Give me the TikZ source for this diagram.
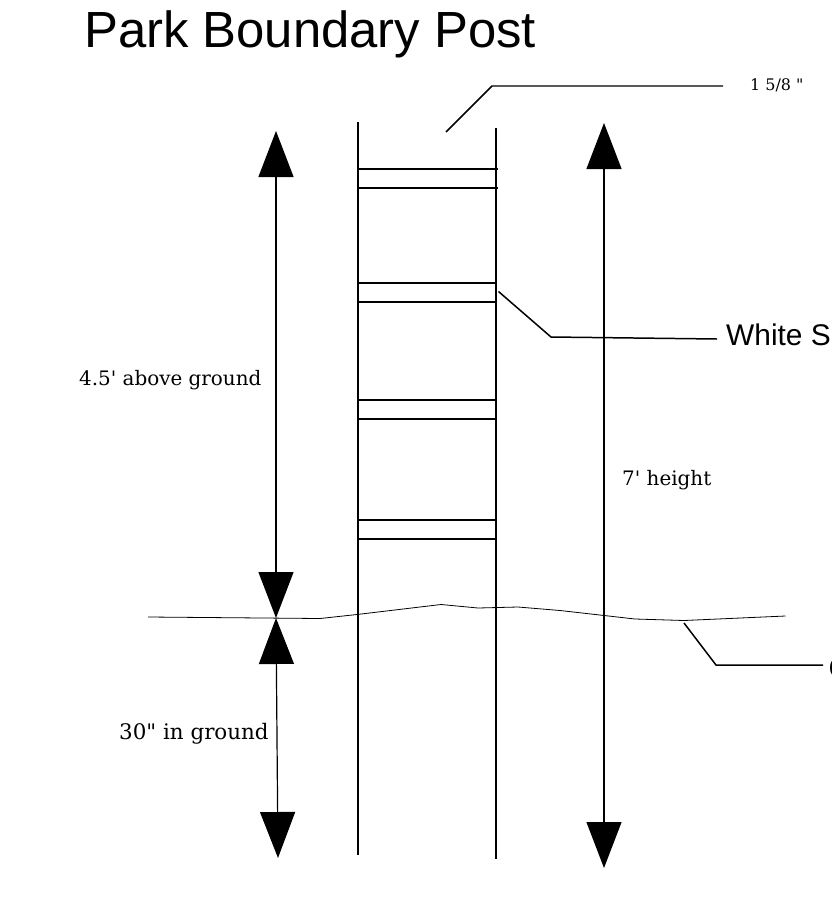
\documentclass[tikz,border=0pt]{standalone}
\usepackage{fontspec}
\setmainfont{DejaVu Serif}
\newfontfamily\headfont{Liberation Sans}
\usetikzlibrary{arrows.meta}

\tikzset{
  postline/.style={black, line width=1.5pt},
  thinline/.style={black, line width=0.8pt},
  dimline/.style={black, line width=1.2pt, {Triangle[length=46bp,width=35bp]}-{Triangle[length=46bp,width=35bp]}},
  headlabel/.style={font=\headfont\fontsize{30}{34}\selectfont, anchor=base west, inner sep=0pt},
  dimlabel/.style={font=\fontsize{20}{24}\selectfont, anchor=base west, inner sep=0pt}
}

\begin{document}
\begin{tikzpicture}[x=1bp, y=-1bp]
  \useasboundingbox (0,0) rectangle (832,901);
  \node[font=\headfont\fontsize{51}{60}\selectfont, anchor=base west, inner sep=0pt] (title) at (84,47) {Park Boundary Post};
  % post and bands
  \draw[postline] (358,122) -- (358,855);
  \draw[postline] (496,128) -- (496,859);
  \draw[postline] (358,169) -- (498,169);
  \draw[postline] (358,188) -- (498,188);
  \draw[postline] (358,283) -- (496,283);
  \draw[postline] (358,302) -- (496,302);
  \draw[postline] (358,400) -- (496,400);
  \draw[postline] (358,419) -- (496,419);
  \draw[postline] (358,520) -- (496,520);
  \draw[postline] (358,539) -- (496,539);
  % ground
  \draw[thinline] (148,617) -- (320,618.5) -- (357,614.5) -- (441,604.5) -- (478,608) -- (518,607) -- (560,610.5) -- (635,619) -- (684,620.5) -- (785.5,616);
  % dimensions
  \coordinate (aboveTop) at (276,131);
  \coordinate (aboveEnd) at (276,618);
  \coordinate (belowTop) at (276,618);
  \coordinate (belowEnd) at (278,858);
  \coordinate (totalTop) at (604,123);
  \coordinate (totalEnd) at (604,868);
  \draw[dimline] (aboveTop) -- (aboveEnd);
  \draw[dimline] (belowTop) -- (belowEnd);
  \draw[dimline] (totalTop) -- (totalEnd);
  \node[dimlabel] (aboveLabel) at (79,385) {4.5\textquotesingle{} above ground};
  \node[dimlabel, font=\fontsize{21.5}{25}\selectfont] (belowLabel) at (119,739) {30\textquotedbl{} in ground};
  \node[dimlabel] (totalLabel) at (622,485) {7\textquotesingle{} height};
  \node[dimlabel, font=\fontsize{16}{19}\selectfont] (widthLabel) at (750,90) {1 5/8 \textquotedbl};
  \node[headlabel] (stripLabel) at (726,345) {White S};
  \node[headlabel] (groundLabel) at (828.5,678) {G};
  % leaders
  \coordinate (widthFoot) at (446,132);
  \coordinate (widthBend) at (492,86);
  \coordinate (widthEnd) at (723,86);
  \coordinate (stripFoot) at (498.5,291.5);
  \coordinate (stripBend) at (551,337);
  \coordinate (stripEnd) at (717,339);
  \coordinate (groundFoot) at (684,623);
  \coordinate (groundBend) at (716,665);
  \coordinate (groundEnd) at (823,665);
  \draw[postline] (widthFoot) -- (widthBend) -- (widthEnd);
  \draw[postline] (stripFoot) -- (stripBend) -- (stripEnd);
  \draw[postline] (groundFoot) -- (groundBend) -- (groundEnd);
\end{tikzpicture}
\end{document}
